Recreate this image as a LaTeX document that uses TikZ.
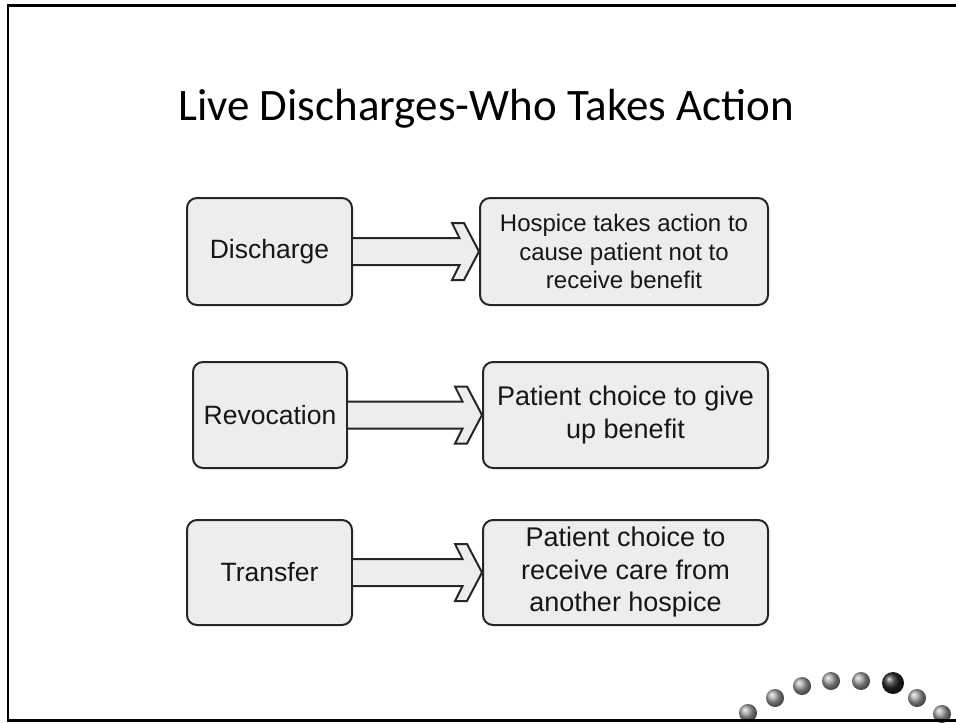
\documentclass[tikz,border=0pt]{standalone}
\usepackage{fontspec}
\setmainfont{Liberation Sans}
\newfontfamily\titlefont{Carlito}
\usetikzlibrary{calc,shadings}
\definecolor{boxfill}{HTML}{EDEDED}
\definecolor{boxline}{HTML}{262626}
\definecolor{txt}{HTML}{161616}
\tikzset{
  leftbox/.style={draw=boxline,fill=boxfill,line width=2pt,rounded corners=10pt,
    inner sep=0pt,text=txt,font=\fontsize{26.5}{31}\selectfont},
  rightbox/.style={draw=boxline,fill=boxfill,line width=2pt,rounded corners=10pt,
    inner sep=0pt,text=txt,align=center},
  blockarrow/.style={draw=boxline,fill=boxfill,line width=2pt,line join=miter},
  graydot/.style={circle,inner sep=0pt,minimum size=18pt,ball color=gray!75},
  darkdot/.style={circle,inner sep=0pt,minimum size=22pt,ball color=black!85},
}
\begin{document}
\begin{tikzpicture}[x=1pt,y=-1pt]
\useasboundingbox (0,0) rectangle (956,723);
\fill[white] (0,0) rectangle (956,723);
% title
\node[font=\titlefont\fontsize{45}{50}\selectfont,anchor=base,text=black] (title) at (486,120) {Live Discharges-Who Takes Action};
% boxes
\node[leftbox,minimum width=165pt,minimum height=107pt] (l1) at (269.5,251.5) {Discharge};
\node[rightbox,minimum width=288pt,minimum height=107pt,font=\fontsize{24}{28.5}\selectfont] (r1) at (624,251.5) {Hospice takes action to\\cause patient not to\\receive benefit};
\node[leftbox,minimum width=154pt,minimum height=106pt] (l2) at (270,415) {Revocation};
\node[rightbox,minimum width=285pt,minimum height=106pt,font=\fontsize{27}{32.5}\selectfont] (r2) at (625.5,415) {Patient choice to give\\up benefit};
\node[leftbox,minimum width=165pt,minimum height=105pt] (l3) at (269.5,572.5) {Transfer};
\node[rightbox,minimum width=285pt,minimum height=105pt,font=\fontsize{27}{32.5}\selectfont] (r3) at (625.5,572.5) {Patient choice to\\receive care from\\another hospice};
% arrows
\foreach \a/\b in {l1/r1,l2/r2,l3/r3}{
  \draw[blockarrow] ($(\a.east)+(0,-13.5)$) -- ($(\b.west)+(-19.5,-13.5)$)
    -- ($(\b.west)+(-27,-28.5)$) -- ($(\b.west)+(-15,-28.5)$) -- (\b.west)
    -- ($(\b.west)+(-15,28.5)$) -- ($(\b.west)+(-27,28.5)$)
    -- ($(\b.west)+(-19.5,13.5)$) -- ($(\a.east)+(0,13.5)$);
}
% dots
\node[graydot] (d1) at (748,713) {};
\node[graydot] (d2) at (775,698) {};
\node[graydot] (d3) at (802,686) {};
\node[graydot] (d4) at (831,681) {};
\node[graydot] (d5) at (861,681) {};
\node[darkdot] (d6) at (893,683) {};
\node[graydot] (d7) at (917,698) {};
\node[graydot] (d8) at (942,714) {};
% frame
\draw[line width=2.5pt,black] (970,5.5) -- (8,5.5) -- (8,720.5) -- (970,720.5);
\end{tikzpicture}
\end{document}
